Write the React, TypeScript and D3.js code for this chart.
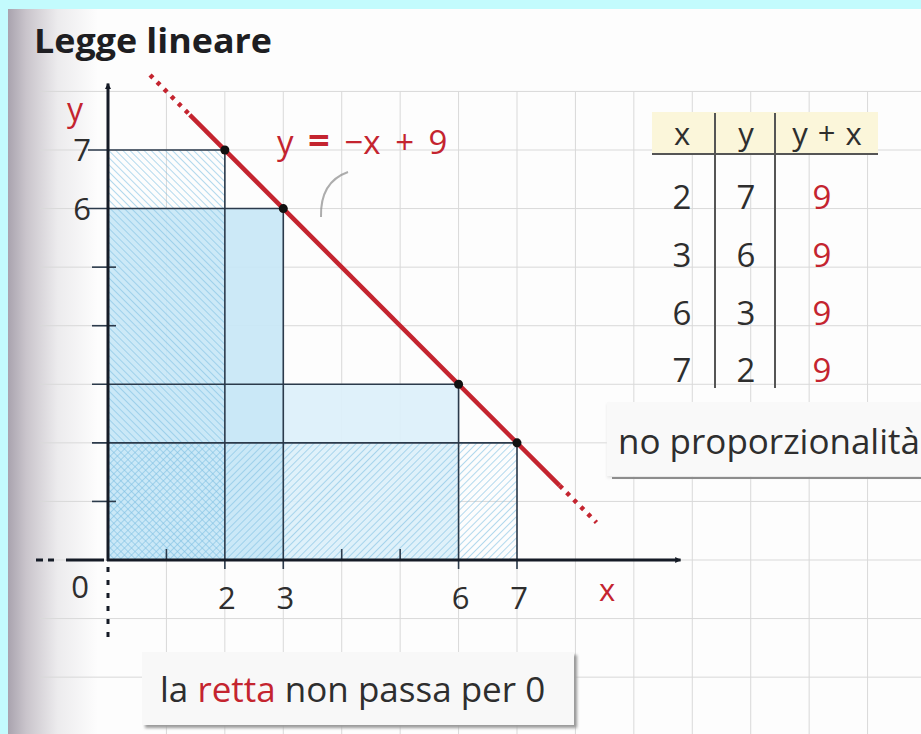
import React from "react";
import * as d3 from "d3";

// Points on the line y = -x + 9
const pointsX = [2, 3, 6, 7];
const pointsY = [7, 6, 3, 2];
const sumsYX = [9, 9, 9, 9];
const lineSlope = -1;
const lineIntercept = 9;
// drawn extent of the line (x values): dotted lead-in, solid part, dotted tail
const lineSolid = [1.4, 7.73];
const lineDotted = [0.72, 8.36];

const xTickLabels = [2, 3, 6, 7];
const xMinorTicks = [1, 4, 5];
const yTickLabels = [6, 7];
const yMinorTicks = [1, 4, 5];
const tableHeaders = ["x", "y", "y + x"];

const W = 921;
const H = 734;
const FONT = "'Open Sans', 'Noto Sans', sans-serif";
const RED = "#c4242f";
const INK = "#2b3a4b";
const TXT = "#2e2e2e";

export default function App() {
  const x = d3.scaleLinear().domain([0, 7]).range([108, 517]);
  const y = d3.scaleLinear().domain([0, 7]).range([560, 150]);
  const unit = x(1) - x(0);

  const gridX = d3.range(1, 15).map((v) => x(v));
  const gridY = d3.range(-3, 9).map((v) => y(v));

  const lineFn = (v: number) => lineSlope * v + lineIntercept;
  const seg = d3
    .line<number>()
    .x((v) => x(v))
    .y((v) => y(lineFn(v)));

  const colX = [682, 746, 826];
  const rowBase = [209, 267, 325, 382];

  return (
    <div style={{ position: "fixed", left: 0, top: 0 }}>
      <svg width={W} height={H} viewBox={`0 0 ${W} ${H}`} style={{ display: "block" }}>
        <defs>
          <linearGradient id="gutter" x1="0" x2="1" y1="0" y2="0">
            <stop offset="0" stopColor="#a9a3ae" />
            <stop offset="0.2" stopColor="#c9c4cb" />
            <stop offset="0.55" stopColor="#ecebed" />
            <stop offset="1" stopColor="#fdfdfd" />
          </linearGradient>
          <pattern id="hatchBack" width="5" height="5" patternUnits="userSpaceOnUse" patternTransform="rotate(-45)">
            <line x1="0" y1="0" x2="0" y2="5" stroke="#80c0e2" strokeWidth="1.4" />
          </pattern>
          <pattern id="hatchFwd" width="5" height="5" patternUnits="userSpaceOnUse" patternTransform="rotate(45)">
            <line x1="0" y1="0" x2="0" y2="5" stroke="#80c0e2" strokeWidth="1.4" />
          </pattern>
          <filter id="soft" x="-10%" y="-10%" width="130%" height="140%">
            <feGaussianBlur stdDeviation="1.5" />
          </filter>
          <marker id="arrow" viewBox="0 0 10 10" refX="9" refY="5" markerWidth="6" markerHeight="6" orient="auto" markerUnits="userSpaceOnUse">
            <path d="M0,0 L10,5 L0,10 z" fill="#151b26" />
          </marker>
        </defs>

        {/* page */}
        <rect x={0} y={0} width={W} height={H} fill="#fdfdfd" />
        <rect x={8} y={0} width={90} height={H} fill="url(#gutter)" />

        {/* squared paper grid */}
        <g stroke="#d9d9d9" strokeWidth={1}>
          {gridX.map((gx, i) => (
            <line key={"gx" + i} x1={gx} x2={gx} y1={y(8)} y2={H} />
          ))}
          {gridY.map((gy, i) => (
            <line key={"gy" + i} x1={40} x2={W} y1={gy} y2={gy} />
          ))}
        </g>

        {/* filled rectangles x·y */}
        <rect x={x(0)} y={y(3)} width={x(6) - x(0)} height={y(0) - y(3)} fill="#dcf0fa" opacity={0.92} />
        <rect x={x(0)} y={y(6)} width={x(3) - x(0)} height={y(0) - y(6)} fill="#c8e7f6" opacity={0.92} />
        {/* hatched rectangles */}
        <rect x={x(0)} y={y(7)} width={x(2) - x(0)} height={y(0) - y(7)} fill="url(#hatchBack)" opacity={0.85} />
        <rect x={x(0)} y={y(2)} width={x(7) - x(0)} height={y(0) - y(2)} fill="url(#hatchFwd)" opacity={0.85} />

        {/* guide lines from each point to the axes */}
        <g stroke={INK} strokeWidth={1.6}>
          {pointsX.map((px, i) => (
            <g key={"g" + i}>
              <line x1={x(px)} x2={x(px)} y1={y(0) + 9} y2={y(pointsY[i])} />
              <line x1={x(0) - (pointsY[i] >= 6 ? 20 : 16)} x2={x(px)} y1={y(pointsY[i])} y2={y(pointsY[i])} />
            </g>
          ))}
          {xMinorTicks.map((t) => (
            <line key={"xt" + t} x1={x(t)} x2={x(t)} y1={y(0)} y2={y(0) - 11} />
          ))}
          {yMinorTicks.map((t) => (
            <line key={"yt" + t} x1={x(0) - 16} x2={x(0) + 8} y1={y(t)} y2={y(t)} />
          ))}
        </g>

        {/* axes */}
        <g stroke="#151b26" strokeWidth={3}>
          <line x1={x(0)} x2={x(0)} y1={y(0) + 1} y2={y(8.1) - 2} markerEnd="url(#arrow)" />
          <line x1={x(0) - 1} x2={x(0) + 9.8 * unit} y1={y(0)} y2={y(0)} markerEnd="url(#arrow)" />
          <line x1={36} x2={x(0) - 4} y1={y(0)} y2={y(0)} strokeDasharray="7 5 6 12 40" strokeWidth={3} />
          <line x1={x(0)} x2={x(0)} y1={y(0) + 7} y2={y(0) + 82} strokeDasharray="5 8" strokeWidth={3} />
        </g>

        {/* the line y = -x + 9 */}
        <path d={seg([lineDotted[0], lineSolid[0]]) ?? ""} stroke={RED} strokeWidth={4.5} strokeDasharray="4 6" fill="none" />
        <path d={seg(lineSolid) ?? ""} stroke={RED} strokeWidth={4.5} fill="none" />
        <path d={seg([lineSolid[1], lineDotted[1]]) ?? ""} stroke={RED} strokeWidth={4.5} strokeDasharray="4 6" fill="none" />
        {pointsX.map((px, i) => (
          <circle key={"p" + i} cx={x(px)} cy={y(pointsY[i])} r={4.5} fill="#111" />
        ))}

        {/* title */}
        <text x={34} y={53} fontFamily={FONT} fontWeight={700} fontSize={34} fill="#1e1e22" textLength={238} lengthAdjust="spacingAndGlyphs">
          Legge lineare
        </text>

        {/* axis labels */}
        <g fontFamily={FONT} fontSize={31} fill={TXT}>
          {yTickLabels.map((t) => (
            <text key={"yl" + t} x={x(0) - 17} y={y(t)} dy="0.36em" textAnchor="end">
              {t}
            </text>
          ))}
          {xTickLabels.map((t) => (
            <text key={"xl" + t} x={x(t) + 2} y={609} textAnchor="middle">
              {t}
            </text>
          ))}
          <text x={80} y={598} textAnchor="middle">0</text>
        </g>
        <text x={75} y={121} fontFamily={FONT} fontSize={32} fill={RED} textAnchor="middle">y</text>
        <text x={607} y={601} fontFamily={FONT} fontSize={31} fill={RED} textAnchor="middle">x</text>

        {/* equation */}
        <text x={277} y={154} fontFamily={FONT} fontSize={33} fill={RED} wordSpacing={6}>
          y <tspan fontWeight={700} fontSize={38}>=</tspan> −x + 9
        </text>
        <path d="M321 217 Q 320 182 348 172" stroke="#8a8a8a" strokeWidth={2} fill="none" opacity={0.7} />

        {/* value table */}
        <rect x={652} y={112} width={226} height={41} fill="#fbf6da" />
        <line x1={652} x2={878} y1={154} y2={154} stroke="#555" strokeWidth={2} />
        <line x1={715} x2={715} y1={113} y2={388} stroke="#555" strokeWidth={2} />
        <line x1={775} x2={775} y1={113} y2={388} stroke="#555" strokeWidth={2} />
        <g fontFamily={FONT} fontSize={31} fill={TXT} textAnchor="middle">
          <text x={colX[0]} y={145}>{tableHeaders[0]}</text>
          <text x={colX[1]} y={145}>{tableHeaders[1]}</text>
          <text x={827} y={145} wordSpacing={2}>{tableHeaders[2]}</text>
        </g>
        <g fontFamily={FONT} fontSize={33} textAnchor="middle">
          {pointsX.map((px, i) => (
            <g key={"r" + i}>
              <text x={colX[0]} y={rowBase[i]} fill={TXT}>{px}</text>
              <text x={colX[1]} y={rowBase[i]} fill={TXT}>{pointsY[i]}</text>
              <text x={colX[2] - 4} y={rowBase[i]} fill={RED}>{sumsYX[i]}</text>
            </g>
          ))}
        </g>

        {/* note: no proportionality */}
        <rect x={607} y={404} width={W - 607} height={74} fill="#e6e6e6" filter="url(#soft)" />
        <rect x={607} y={402} width={W - 607} height={74} fill="#f9f9f9" />
        <line x1={612} x2={W} y1={478} y2={478} stroke="#8d8d8d" strokeWidth={2} />
        <text x={618} y={454} fontFamily={FONT} fontSize={35} fill={TXT}>
          no proporzionalità
        </text>

        {/* note: the line does not pass through 0 */}
        <rect x={145} y={655} width={432} height={73} fill="#9a9a9a" filter="url(#soft)" />
        <rect x={142} y={652} width={432} height={73} fill="#f8f8f8" />
        <text x={160} y={702} fontFamily={FONT} fontSize={35} fill={TXT}>
          la <tspan fill={RED}>retta</tspan> non passa per 0
        </text>

        {/* outer frame */}
        <rect x={0} y={0} width={W} height={9} fill="#c3fbfd" />
        <rect x={0} y={0} width={8} height={H} fill="#c3fbfd" />
      </svg>
    </div>
  );
}
